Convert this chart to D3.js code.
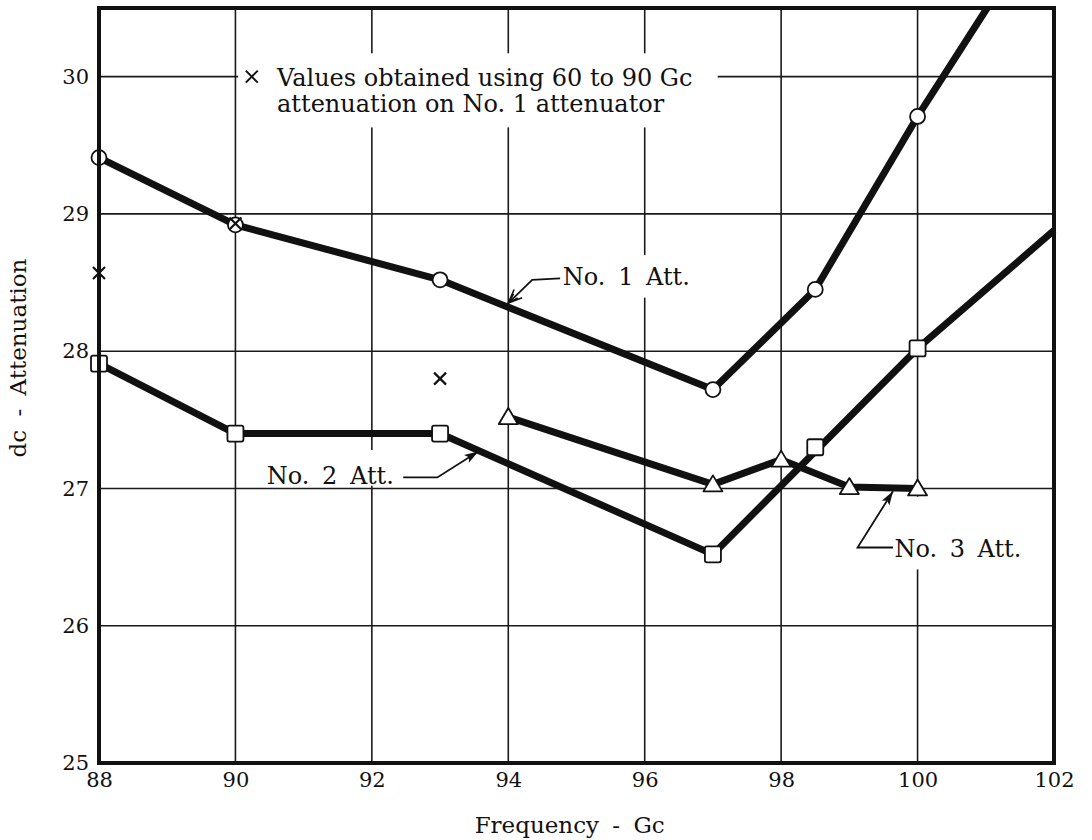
<!DOCTYPE html>
<html>
<head>
<meta charset="utf-8">
<script src="https://cdn.jsdelivr.net/npm/d3@7"></script>
<style>
    body { margin: 0; background: #fff; }
    text { font-family: "DejaVu Serif", serif; fill: #111; }
</style>
</head>
<body>
<script>
// axis ticks
var freqTicks = [88, 90, 92, 94, 96, 98, 100, 102];
var attTicks = [25, 26, 27, 28, 29, 30];

// No. 1 attenuator (circles), line runs out through the top of the frame
var att1Freq = [88, 90, 93, 97, 98.5, 100];
var att1Values = [29.41, 28.92, 28.52, 27.72, 28.45, 29.71];
var att1ExitFreq = [101.02];
var att1ExitValues = [30.5];

// No. 2 attenuator (squares), line runs out through the right side
var att2Freq = [88, 90, 93, 97, 100];
var att2Values = [27.91, 27.40, 27.40, 26.52, 28.02];
var att2ExitFreq = [102];
var att2ExitValues = [28.88];
var att2StrayFreq = [98.5];
var att2StrayValues = [27.30];

// No. 3 attenuator (triangles)
var att3Freq = [94, 97, 98, 99, 100];
var att3Values = [27.52, 27.03, 27.21, 27.01, 27.0];

// values from the 60 to 90 Gc attenuation
var crossFreq = [88, 90, 93];
var crossValues = [28.57, 28.93, 27.80];

function add_svg()
{
    let svg = d3.select("body").append("svg");
    svg.attr("width", 1092);
    svg.attr("height", 840);

    let x = d3.scaleLinear().domain([88, 102]).range([99, 1054]);
    let y = d3.scaleLinear().domain([25, 30.5]).range([763, 8]);

    // arrow heads
    let defs = svg.append("defs");
    defs.append("marker")
    .attr("id", "arrowfill")
    .attr("markerUnits", "userSpaceOnUse")
    .attr("viewBox", "0 -5 14 10")
    .attr("refX", 14)
    .attr("refY", 0)
    .attr("markerWidth", 18)
    .attr("markerHeight", 10)
    .attr("orient", "auto")
    .append("path")
    .attr("d", "M0,-4.5L14,0L0,4.5L3,0Z")
    .style("fill", "#111");

    defs.append("marker")
    .attr("id", "arrowopen")
    .attr("markerUnits", "userSpaceOnUse")
    .attr("viewBox", "-1 -6 14 12")
    .attr("refX", 12)
    .attr("refY", 0)
    .attr("markerWidth", 16)
    .attr("markerHeight", 14)
    .attr("orient", "auto")
    .append("path")
    .attr("d", "M0,-5L12,0L0,5M3,-2.5L12,0L3,2.5")
    .style("fill", "none")
    .style("stroke", "#111")
    .style("stroke-width", 1.4);

    // grid lines
    svg.selectAll(".vgrid")
    .data(freqTicks.slice(1, -1))
    .enter().append("line")
    .attr("class", "vgrid")
    .attr("x1", function(d) { return x(d); })
    .attr("x2", function(d) { return x(d); })
    .attr("y1", y(25))
    .attr("y2", y(30.5))
    .style("stroke", "#1a1a1a")
    .style("stroke-width", 1.6);

    svg.selectAll(".hgrid")
    .data(attTicks.slice(1))
    .enter().append("line")
    .attr("class", "hgrid")
    .attr("x1", x(88))
    .attr("x2", x(102))
    .attr("y1", function(d) { return y(d); })
    .attr("y2", function(d) { return y(d); })
    .style("stroke", "#1a1a1a")
    .style("stroke-width", 1.6);

    // white patches behind the notes
    let patches = [
        [90.04, 97.07, 30.17, 29.63],
        [94.69, 96.81, 28.70, 28.39],
        [90.39, 92.41, 27.28, 27.02],
        [99.57, 101.65, 26.94, 26.41]
    ];
    svg.selectAll(".patch")
    .data(patches)
    .enter().append("rect")
    .attr("class", "patch")
    .attr("x", function(d) { return x(d[0]); })
    .attr("width", function(d) { return x(d[1]) - x(d[0]); })
    .attr("y", function(d) { return y(d[2]); })
    .attr("height", function(d) { return y(d[3]) - y(d[2]); })
    .style("fill", "#fff");

    // data lines
    let line = d3.line()
    .x(function(d) { return x(d[0]); })
    .y(function(d) { return y(d[1]); });

    let series = [
        d3.zip(att1Freq.concat(att1ExitFreq), att1Values.concat(att1ExitValues)),
        d3.zip(att2Freq.concat(att2ExitFreq), att2Values.concat(att2ExitValues)),
        d3.zip(att3Freq, att3Values)
    ];
    svg.selectAll(".dataline")
    .data(series)
    .enter().append("path")
    .attr("class", "dataline")
    .attr("d", line)
    .style("fill", "none")
    .style("stroke", "#111")
    .style("stroke-width", 7)
    .style("stroke-linejoin", "round");

    // markers
    svg.selectAll(".circ")
    .data(d3.zip(att1Freq, att1Values))
    .enter().append("circle")
    .attr("class", "circ")
    .attr("cx", function(d) { return x(d[0]); })
    .attr("cy", function(d) { return y(d[1]); })
    .attr("r", 7.5)
    .style("fill", "#fff")
    .style("stroke", "#111")
    .style("stroke-width", 1.8);

    svg.selectAll(".sq")
    .data(d3.zip(att2Freq.concat(att2StrayFreq), att2Values.concat(att2StrayValues)))
    .enter().append("rect")
    .attr("class", "sq")
    .attr("x", function(d) { return x(d[0]) - 8; })
    .attr("y", function(d) { return y(d[1]) - 8; })
    .attr("width", 16)
    .attr("height", 16)
    .attr("rx", 2)
    .style("fill", "#fff")
    .style("stroke", "#111")
    .style("stroke-width", 1.8);

    svg.selectAll(".tri")
    .data(d3.zip(att3Freq, att3Values))
    .enter().append("path")
    .attr("class", "tri")
    .attr("d", "M0,-9L9.5,7L-9.5,7Z")
    .attr("transform", function(d) { return "translate(" + x(d[0]) + "," + y(d[1]) + ")"; })
    .style("fill", "#fff")
    .style("stroke", "#111")
    .style("stroke-width", 1.8)
    .style("stroke-linejoin", "round");

    let crossPath = "M-6,-6L6,6M-6,6L6,-6";
    svg.selectAll(".cross")
    .data(d3.zip(crossFreq, crossValues))
    .enter().append("path")
    .attr("class", "cross")
    .attr("d", crossPath)
    .attr("transform", function(d) { return "translate(" + x(d[0]) + "," + y(d[1]) + ")"; })
    .style("fill", "none")
    .style("stroke", "#111")
    .style("stroke-width", 2.2);

    // legend note
    svg.append("path")
    .attr("d", crossPath)
    .attr("transform", "translate(" + x(90.24) + "," + y(30.0) + ")")
    .style("fill", "none")
    .style("stroke", "#111")
    .style("stroke-width", 2);

    svg.append("svg:text")
    .text("Values obtained using 60 to 90 Gc")
    .attr("x", x(90.61))
    .attr("y", y(29.93))
    .style("font-size", "24px");

    svg.append("svg:text")
    .text("attenuation on No. 1 attenuator")
    .attr("x", x(90.61))
    .attr("y", y(29.74))
    .style("font-size", "24px");

    // series labels with leaders
    let labels = [
        { text: "No. 1 Att.", f: 94.80, v: 28.48, leader: [[94.76, 28.53], [94.35, 28.52], [94.0, 28.35]], arrow: "arrowopen" },
        { text: "No. 2 Att.", f: 90.46, v: 27.03, leader: [[92.46, 27.08], [92.96, 27.08], [93.56, 27.27]], arrow: "arrowfill" },
        { text: "No. 3 Att.", f: 99.66, v: 26.50, leader: [[99.64, 26.57], [99.12, 26.57], [99.64, 26.98]], arrow: "arrowfill" }
    ];

    svg.selectAll(".leader")
    .data(labels)
    .enter().append("path")
    .attr("class", "leader")
    .attr("d", function(d) { return line(d.leader); })
    .attr("marker-end", function(d) { return "url(#" + d.arrow + ")"; })
    .style("fill", "none")
    .style("stroke", "#111")
    .style("stroke-width", 1.8);

    svg.selectAll(".label")
    .data(labels)
    .enter().append("svg:text")
    .attr("class", "label")
    .text(function(d) { return d.text; })
    .attr("x", function(d) { return x(d.f); })
    .attr("y", function(d) { return y(d.v); })
    .style("font-size", "24px")
    .style("word-spacing", "5px");

    // axes
    let xAxis = d3.axisBottom(x).tickValues(freqTicks).tickFormat(d3.format("d")).tickSize(0).tickPadding(9);
    let yAxis = d3.axisLeft(y).tickValues(attTicks).tickFormat(d3.format("d")).tickSize(0).tickPadding(10);

    let gx = svg.append("g")
    .attr("transform", "translate(0," + y(25) + ")")
    .call(xAxis);
    gx.attr("font-family", null);
    gx.select(".domain").remove();
    gx.selectAll("text").style("font-size", "21px").style("font-family", "DejaVu Serif");

    let gy = svg.append("g")
    .attr("transform", "translate(" + x(88) + ",0)")
    .call(yAxis);
    gy.attr("font-family", null);
    gy.select(".domain").remove();
    gy.selectAll("text").style("font-size", "21px").style("font-family", "DejaVu Serif");

    // frame
    svg.append("rect")
    .attr("x", x(88))
    .attr("y", y(30.5))
    .attr("width", x(102) - x(88))
    .attr("height", y(25) - y(30.5))
    .style("fill", "none")
    .style("stroke", "#111")
    .style("stroke-width", 4);

    // axis titles
    svg.append("svg:text")
    .text("Frequency - Gc")
    .attr("x", x(94.9))
    .attr("y", 833)
    .attr("text-anchor", "middle")
    .style("font-size", "23px")
    .style("word-spacing", "6px");

    svg.append("svg:text")
    .text("dc - Attenuation")
    .attr("transform", "translate(26," + y(27.95) + ") rotate(-90)")
    .attr("text-anchor", "middle")
    .style("font-size", "23px")
    .style("word-spacing", "6px");
}

add_svg();
</script>
</body>
</html>
